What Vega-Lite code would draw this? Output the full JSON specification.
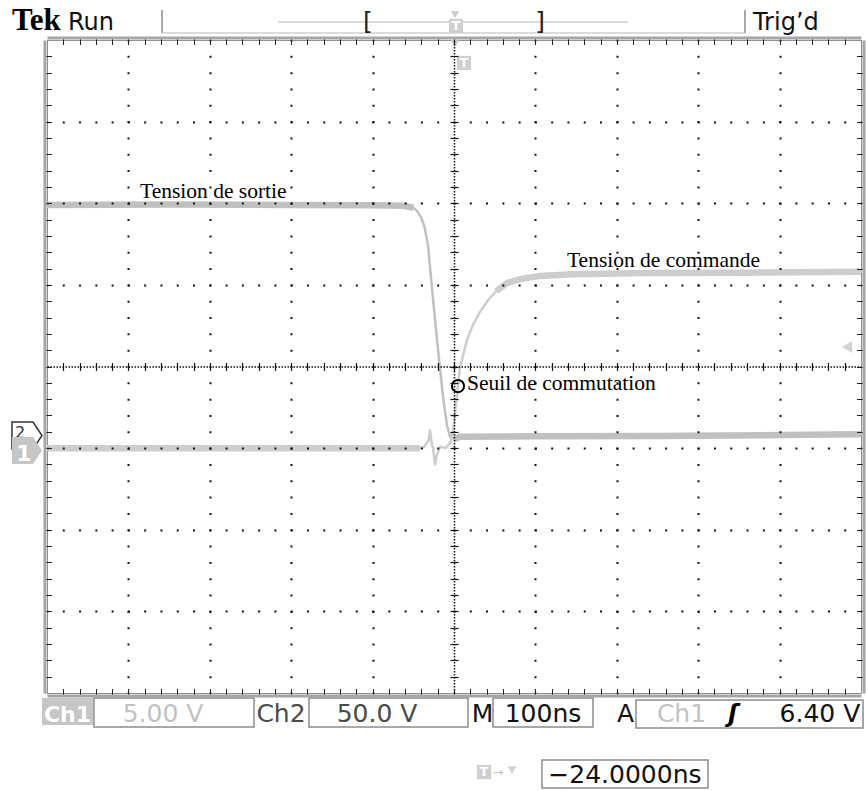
{
  "$schema": "https://vega.github.io/schema/vega-lite/v6.json",
  "width": 814,
  "height": 653,
  "autosize": {"type": "none"},
  "padding": {"left": 47, "top": 40, "right": 5, "bottom": 98},
  "background": "#ffffff",
  "config": {"view": {"stroke": "#222222", "strokeWidth": 1, "strokeDash": [1, 1]}},
  "resolve": {"axis": {"x": "independent", "y": "independent"}},
  "datasets": {
    "traces": [
      {"trace": "Sortie", "phase": "avant", "t": -5, "v": 1.98},
      {"trace": "Sortie", "phase": "avant", "t": -3.5, "v": 1.985},
      {"trace": "Sortie", "phase": "avant", "t": -2, "v": 1.98},
      {"trace": "Sortie", "phase": "avant", "t": -1, "v": 1.975},
      {"trace": "Sortie", "phase": "avant", "t": -0.62, "v": 1.97},
      {"trace": "Sortie", "phase": "avant", "t": -0.5, "v": 1.945},
      {"trace": "Sortie", "phase": "commutation", "t": -0.5, "v": 1.945},
      {"trace": "Sortie", "phase": "commutation", "t": -0.45, "v": 1.9},
      {"trace": "Sortie", "phase": "commutation", "t": -0.4, "v": 1.82},
      {"trace": "Sortie", "phase": "commutation", "t": -0.36, "v": 1.7},
      {"trace": "Sortie", "phase": "commutation", "t": -0.32, "v": 1.49},
      {"trace": "Sortie", "phase": "commutation", "t": -0.26, "v": 0.85},
      {"trace": "Sortie", "phase": "commutation", "t": -0.2, "v": 0.24},
      {"trace": "Sortie", "phase": "commutation", "t": -0.135, "v": -0.37},
      {"trace": "Sortie", "phase": "commutation", "t": -0.086, "v": -0.72},
      {"trace": "Sortie", "phase": "commutation", "t": -0.049, "v": -0.86},
      {"trace": "Sortie", "phase": "commutation", "t": 0, "v": -0.89},
      {"trace": "Sortie", "phase": "apres", "t": 0, "v": -0.89},
      {"trace": "Sortie", "phase": "apres", "t": 0.08, "v": -0.86},
      {"trace": "Sortie", "phase": "apres", "t": 1, "v": -0.855},
      {"trace": "Sortie", "phase": "apres", "t": 2.5, "v": -0.85},
      {"trace": "Sortie", "phase": "apres", "t": 4, "v": -0.84},
      {"trace": "Sortie", "phase": "apres", "t": 5, "v": -0.83},
      {"trace": "Commande", "phase": "avant", "t": -5, "v": -1.0},
      {"trace": "Commande", "phase": "avant", "t": -3, "v": -1.0},
      {"trace": "Commande", "phase": "avant", "t": -1, "v": -1.0},
      {"trace": "Commande", "phase": "avant", "t": -0.42, "v": -1.0},
      {"trace": "Commande", "phase": "commutation", "t": -0.42, "v": -1.0},
      {"trace": "Commande", "phase": "commutation", "t": -0.36, "v": -0.98},
      {"trace": "Commande", "phase": "commutation", "t": -0.31, "v": -0.9},
      {"trace": "Commande", "phase": "commutation", "t": -0.295, "v": -0.78},
      {"trace": "Commande", "phase": "commutation", "t": -0.275, "v": -0.93},
      {"trace": "Commande", "phase": "commutation", "t": -0.258, "v": -1.0},
      {"trace": "Commande", "phase": "commutation", "t": -0.233, "v": -1.2},
      {"trace": "Commande", "phase": "commutation", "t": -0.21, "v": -1.08},
      {"trace": "Commande", "phase": "commutation", "t": -0.17, "v": -0.98},
      {"trace": "Commande", "phase": "commutation", "t": -0.1, "v": -1.0},
      {"trace": "Commande", "phase": "commutation", "t": -0.04, "v": -0.92},
      {"trace": "Commande", "phase": "commutation", "t": 0, "v": -0.72},
      {"trace": "Commande", "phase": "commutation", "t": 0.037, "v": -0.33},
      {"trace": "Commande", "phase": "commutation", "t": 0.074, "v": -0.01},
      {"trace": "Commande", "phase": "commutation", "t": 0.16, "v": 0.325},
      {"trace": "Commande", "phase": "commutation", "t": 0.233, "v": 0.51},
      {"trace": "Commande", "phase": "commutation", "t": 0.32, "v": 0.67},
      {"trace": "Commande", "phase": "commutation", "t": 0.42, "v": 0.815},
      {"trace": "Commande", "phase": "commutation", "t": 0.52, "v": 0.925},
      {"trace": "Commande", "phase": "apres", "t": 0.52, "v": 0.925},
      {"trace": "Commande", "phase": "apres", "t": 0.65, "v": 1.02},
      {"trace": "Commande", "phase": "apres", "t": 0.81, "v": 1.07},
      {"trace": "Commande", "phase": "apres", "t": 1.06, "v": 1.11},
      {"trace": "Commande", "phase": "apres", "t": 1.46, "v": 1.13},
      {"trace": "Commande", "phase": "apres", "t": 2.4, "v": 1.145},
      {"trace": "Commande", "phase": "apres", "t": 3.6, "v": 1.15},
      {"trace": "Commande", "phase": "apres", "t": 5, "v": 1.16}
    ],
    "notes": [
      {"t": -3.857, "v": 2.065, "label": "Tension de sortie"},
      {"t": 1.388, "v": 1.219, "label": "Tension de commande"},
      {"t": 0.16, "v": -0.288, "label": "Seuil de commutation"}
    ],
    "seuil": [{"t": 0.049, "v": -0.239}],
    "header": [
      {"t": -4.742, "v": 4.124, "label": "Run"},
      {"t": 3.673, "v": 4.124, "label": "Trig’d"}
    ],
    "tek": [{"t": -5.43, "v": 4.124, "label": "Tek"}],
    "brackets": [
      {"t": -1.057, "v": 4.222, "label": "["},
      {"t": 1.057, "v": 4.222, "label": "]"}
    ],
    "vrules": [
      {"t": -3.587, "v": 4.369, "v2": 4.087},
      {"t": 3.575, "v": 4.369, "v2": 4.087}
    ],
    "hrules": [
      {"t": -3.587, "t2": 3.575, "v": 4.087},
      {"t": -2.162, "t2": 2.138, "v": 4.222}
    ],
    "boxes": [
      {"t": -4.423, "t2": -2.457, "v": -4.062, "v2": -4.418},
      {"t": -1.781, "t2": 0.172, "v": -4.062, "v2": -4.418},
      {"t": 0.479, "t2": 1.708, "v": -4.062, "v2": -4.418},
      {"t": 2.236, "t2": 5.025, "v": -4.087, "v2": -4.43},
      {"t": 1.081, "t2": 3.12, "v": -4.82, "v2": -5.165}
    ],
    "chbox": [{"t": -5.061, "t2": -4.435, "v": -4.062, "v2": -4.393}],
    "footBlack": [
      {"t": 0.35, "v": -4.357, "label": "M"},
      {"t": 1.093, "v": -4.357, "label": "100ns"},
      {"t": 2.107, "v": -4.357, "label": "A"},
      {"t": 4.496, "v": -4.357, "label": "6.40 V"},
      {"t": 2.1, "v": -5.104, "label": "−24.0000ns"}
    ],
    "slope": [{"t": 3.428, "v": -4.357, "label": "ʃ"}],
    "footDark": [
      {"t": -2.125, "v": -4.357, "label": "Ch2"},
      {"t": -0.946, "v": -4.357, "label": "50.0 V"}
    ],
    "footLight": [
      {"t": -3.575, "v": -4.357, "label": "5.00 V"},
      {"t": 2.795, "v": -4.357, "label": "Ch1"}
    ],
    "iconSquares": [
      {"t": 0.025, "v": 4.173, "label": "T"},
      {"t": 0.123, "v": 3.719, "label": "T"},
      {"t": 0.369, "v": -4.969, "label": "T"}
    ],
    "iconTriangles": [
      {"t": 0.012, "v": 4.311},
      {"t": 0.012, "v": 3.952},
      {"t": 0.713, "v": -4.945}
    ],
    "arrow": [{"t": 0.541, "v": -4.969, "label": "→"}],
    "marker2": [{"t": -5.246, "v": -0.864}],
    "marker2text": [{"t": -5.332, "v": -0.815, "label": "2"}],
    "marker1": [{"t": -5.246, "v": -1.048}],
    "whiteText": [
      {"t": -4.748, "v": -4.357, "label": "Ch1"},
      {"t": -5.283, "v": -1.158, "label": "1"}
    ],
    "trigger": [{"t": 4.828, "v": 0.239}]
  },
  "layer": [
    {
      "data": {"name": "boxes"},
      "mark": {"type": "rect", "fill": "#ffffff", "stroke": "#8c8c8c", "strokeWidth": 1.5},
      "encoding": {
        "x": {"field": "t", "type": "quantitative", "scale": {"domain": [-5, 5], "nice": false, "zero": false}, "axis": null},
        "x2": {"field": "t2"},
        "y": {"field": "v", "type": "quantitative", "scale": {"domain": [-4, 4], "nice": false, "zero": false}, "axis": null},
        "y2": {"field": "v2"}
      }
    },
    {
      "data": {"name": "chbox"},
      "mark": {"type": "rect", "fill": "#c6c6c6"},
      "encoding": {
        "x": {"field": "t", "type": "quantitative", "scale": {"domain": [-5, 5], "nice": false, "zero": false}, "axis": null},
        "x2": {"field": "t2"},
        "y": {"field": "v", "type": "quantitative", "scale": {"domain": [-4, 4], "nice": false, "zero": false}, "axis": null},
        "y2": {"field": "v2"}
      }
    },
    {
      "data": {"name": "vrules"},
      "mark": {"type": "rule", "stroke": "#8c8c8c", "strokeWidth": 1.5},
      "encoding": {
        "x": {"field": "t", "type": "quantitative", "scale": {"domain": [-5, 5], "nice": false, "zero": false}, "axis": null},
        "y": {"field": "v", "type": "quantitative", "scale": {"domain": [-4, 4], "nice": false, "zero": false}, "axis": null},
        "y2": {"field": "v2"}
      }
    },
    {
      "data": {"name": "hrules"},
      "mark": {"type": "rule", "stroke": "#cfcfcf", "strokeWidth": 1.5},
      "encoding": {
        "x": {"field": "t", "type": "quantitative", "scale": {"domain": [-5, 5], "nice": false, "zero": false}, "axis": null},
        "x2": {"field": "t2"},
        "y": {"field": "v", "type": "quantitative", "scale": {"domain": [-4, 4], "nice": false, "zero": false}, "axis": null}
      }
    },
    {
      "data": {"name": "traces"},
      "mark": {"type": "line", "strokeWidth": 2.5, "strokeCap": "round", "strokeJoin": "round"},
      "encoding": {
        "x": {"field": "t", "type": "quantitative", "scale": {"domain": [-5, 5], "nice": false, "zero": false},
          "axis": {"orient": "bottom", "grid": true, "domain": false, "ticks": false, "labels": false, "title": null,
            "values": [-4, -3, -2, -1, 1, 2, 3, 4], "gridColor": "#111111", "gridWidth": 2, "gridDash": [2, 14.325], "gridDashOffset": 1, "gridOpacity": 1, "zindex": 1}},
        "y": {"field": "v", "type": "quantitative", "scale": {"domain": [-4, 4], "nice": false, "zero": false},
          "axis": {"orient": "left", "grid": true, "domain": false, "ticks": false, "labels": false, "title": null,
            "values": [-3, -2, -1, 1, 2, 3], "gridColor": "#111111", "gridWidth": 2, "gridDash": [2, 14.28], "gridDashOffset": 1, "gridOpacity": 1, "zindex": 1}},
        "detail": {"field": "trace", "type": "nominal"},
        "color": {"field": "trace", "type": "nominal", "scale": {"domain": ["Commande", "Sortie"], "range": ["#cdcdcd", "#c0c0c0"]}, "legend": null}
      }
    },
    {
      "data": {"name": "traces"},
      "transform": [{"filter": "datum.phase != 'commutation'"}],
      "mark": {"type": "line", "strokeWidth": 6.5, "strokeCap": "butt"},
      "encoding": {
        "x": {"field": "t", "type": "quantitative", "scale": {"domain": [-5, 5], "nice": false, "zero": false},
          "axis": {"orient": "bottom", "offset": 2.5, "grid": false, "labels": false, "title": null, "domain": true, "domainColor": "#a6a6a6", "domainWidth": 3,
            "ticks": true, "tickColor": "#222222", "tickSize": -7, "tickWidth": 1,
            "values": [-4.8,-4.6,-4.4,-4.2,-4,-3.8,-3.6,-3.4,-3.2,-3,-2.8,-2.6,-2.4,-2.2,-2,-1.8,-1.6,-1.4,-1.2,-1,-0.8,-0.6,-0.4,-0.2,0,0.2,0.4,0.6,0.8,1,1.2,1.4,1.6,1.8,2,2.2,2.4,2.6,2.8,3,3.2,3.4,3.6,3.8,4,4.2,4.4,4.6,4.8], "zindex": 1}},
        "y": {"field": "v", "type": "quantitative", "scale": {"domain": [-4, 4], "nice": false, "zero": false},
          "axis": {"orient": "left", "offset": 2.5, "grid": false, "labels": false, "title": null, "domain": true, "domainColor": "#a6a6a6", "domainWidth": 3,
            "ticks": true, "tickColor": "#222222", "tickSize": -7, "tickWidth": 1,
            "values": [-3.8,-3.6,-3.4,-3.2,-3,-2.8,-2.6,-2.4,-2.2,-2,-1.8,-1.6,-1.4,-1.2,-1,-0.8,-0.6,-0.4,-0.2,0,0.2,0.4,0.6,0.8,1,1.2,1.4,1.6,1.8,2,2.2,2.4,2.6,2.8,3,3.2,3.4,3.6,3.8], "zindex": 1}},
        "detail": [{"field": "trace", "type": "nominal"}, {"field": "phase", "type": "nominal"}],
        "color": {"field": "trace", "type": "nominal", "scale": {"domain": ["Commande", "Sortie"], "range": ["#cdcdcd", "#c0c0c0"]}, "legend": null}
      }
    },
    {
      "data": {"name": "notes"},
      "mark": {"type": "text", "font": "Liberation Serif", "fontSize": 21.5, "color": "#000000", "align": "left", "baseline": "alphabetic"},
      "encoding": {
        "x": {"field": "t", "type": "quantitative", "scale": {"domain": [-5, 5], "nice": false, "zero": false},
          "axis": {"orient": "top", "offset": 2.5, "grid": false, "labels": false, "title": null, "domain": true, "domainColor": "#a6a6a6", "domainWidth": 3,
            "ticks": true, "tickColor": "#222222", "tickSize": -7, "tickWidth": 1,
            "values": [-4.8,-4.6,-4.4,-4.2,-4,-3.8,-3.6,-3.4,-3.2,-3,-2.8,-2.6,-2.4,-2.2,-2,-1.8,-1.6,-1.4,-1.2,-1,-0.8,-0.6,-0.4,-0.2,0,0.2,0.4,0.6,0.8,1,1.2,1.4,1.6,1.8,2,2.2,2.4,2.6,2.8,3,3.2,3.4,3.6,3.8,4,4.2,4.4,4.6,4.8], "zindex": 1}},
        "y": {"field": "v", "type": "quantitative", "scale": {"domain": [-4, 4], "nice": false, "zero": false},
          "axis": {"orient": "right", "offset": 2.5, "grid": false, "labels": false, "title": null, "domain": true, "domainColor": "#a6a6a6", "domainWidth": 3,
            "ticks": true, "tickColor": "#222222", "tickSize": -7, "tickWidth": 1,
            "values": [-3.8,-3.6,-3.4,-3.2,-3,-2.8,-2.6,-2.4,-2.2,-2,-1.8,-1.6,-1.4,-1.2,-1,-0.8,-0.6,-0.4,-0.2,0,0.2,0.4,0.6,0.8,1,1.2,1.4,1.6,1.8,2,2.2,2.4,2.6,2.8,3,3.2,3.4,3.6,3.8], "zindex": 1}},
        "text": {"field": "label"}
      }
    },
    {
      "data": {"name": "seuil"},
      "mark": {"type": "point", "shape": "circle", "filled": false, "stroke": "#000000", "strokeWidth": 2, "size": 150, "opacity": 1},
      "encoding": {
        "x": {"field": "t", "type": "quantitative", "scale": {"domain": [-5, 5], "nice": false, "zero": false},
          "axis": {"orient": "bottom", "offset": -326.5, "grid": false, "labels": false, "title": null, "domain": true, "domainColor": "#111111", "domainWidth": 1.5, "domainDash": [1.5, 1.5],
            "ticks": true, "tickColor": "#111111", "tickSize": 4, "tickWidth": 1.2,
            "values": [-4.8,-4.6,-4.4,-4.2,-4,-3.8,-3.6,-3.4,-3.2,-3,-2.8,-2.6,-2.4,-2.2,-2,-1.8,-1.6,-1.4,-1.2,-1,-0.8,-0.6,-0.4,-0.2,0,0.2,0.4,0.6,0.8,1,1.2,1.4,1.6,1.8,2,2.2,2.4,2.6,2.8,3,3.2,3.4,3.6,3.8,4,4.2,4.4,4.6,4.8], "zindex": 1}},
        "y": {"field": "v", "type": "quantitative", "scale": {"domain": [-4, 4], "nice": false, "zero": false},
          "axis": {"orient": "left", "offset": -407, "grid": false, "labels": false, "title": null, "domain": true, "domainColor": "#111111", "domainWidth": 1.5, "domainDash": [1.5, 1.5],
            "ticks": true, "tickColor": "#111111", "tickSize": 4, "tickWidth": 1.2,
            "values": [-3.8,-3.6,-3.4,-3.2,-3,-2.8,-2.6,-2.4,-2.2,-2,-1.8,-1.6,-1.4,-1.2,-1,-0.8,-0.6,-0.4,-0.2,0,0.2,0.4,0.6,0.8,1,1.2,1.4,1.6,1.8,2,2.2,2.4,2.6,2.8,3,3.2,3.4,3.6,3.8], "zindex": 1}}
      }
    },
    {
      "data": {"name": "header"},
      "mark": {"type": "text", "font": "DejaVu Sans", "fontSize": 24, "color": "#111111", "align": "left", "baseline": "alphabetic"},
      "encoding": {
        "x": {"field": "t", "type": "quantitative", "scale": {"domain": [-5, 5], "nice": false, "zero": false},
          "axis": {"orient": "top", "offset": -326.5, "grid": false, "labels": false, "title": null, "domain": false,
            "ticks": true, "tickColor": "#111111", "tickSize": 4, "tickWidth": 1.2,
            "values": [-4.8,-4.6,-4.4,-4.2,-4,-3.8,-3.6,-3.4,-3.2,-3,-2.8,-2.6,-2.4,-2.2,-2,-1.8,-1.6,-1.4,-1.2,-1,-0.8,-0.6,-0.4,-0.2,0,0.2,0.4,0.6,0.8,1,1.2,1.4,1.6,1.8,2,2.2,2.4,2.6,2.8,3,3.2,3.4,3.6,3.8,4,4.2,4.4,4.6,4.8], "zindex": 1}},
        "y": {"field": "v", "type": "quantitative", "scale": {"domain": [-4, 4], "nice": false, "zero": false},
          "axis": {"orient": "right", "offset": -407, "grid": false, "labels": false, "title": null, "domain": false,
            "ticks": true, "tickColor": "#111111", "tickSize": 4, "tickWidth": 1.2,
            "values": [-3.8,-3.6,-3.4,-3.2,-3,-2.8,-2.6,-2.4,-2.2,-2,-1.8,-1.6,-1.4,-1.2,-1,-0.8,-0.6,-0.4,-0.2,0,0.2,0.4,0.6,0.8,1,1.2,1.4,1.6,1.8,2,2.2,2.4,2.6,2.8,3,3.2,3.4,3.6,3.8], "zindex": 1}},
        "text": {"field": "label"}
      }
    },
    {
      "data": {"name": "tek"},
      "mark": {"type": "text", "font": "Liberation Serif", "fontSize": 31, "fontWeight": "bold", "color": "#000000", "align": "left", "baseline": "alphabetic"},
      "encoding": {
        "x": {"field": "t", "type": "quantitative", "scale": {"domain": [-5, 5], "nice": false, "zero": false}, "axis": null},
        "y": {"field": "v", "type": "quantitative", "scale": {"domain": [-4, 4], "nice": false, "zero": false}, "axis": null},
        "text": {"field": "label"}
      }
    },
    {
      "data": {"name": "brackets"},
      "mark": {"type": "text", "font": "DejaVu Sans", "fontSize": 25, "color": "#222222", "align": "center", "baseline": "middle"},
      "encoding": {
        "x": {"field": "t", "type": "quantitative", "scale": {"domain": [-5, 5], "nice": false, "zero": false}, "axis": null},
        "y": {"field": "v", "type": "quantitative", "scale": {"domain": [-4, 4], "nice": false, "zero": false}, "axis": null},
        "text": {"field": "label"}
      }
    },
    {
      "data": {"name": "footBlack"},
      "mark": {"type": "text", "font": "DejaVu Sans", "fontSize": 25, "color": "#111111", "align": "center", "baseline": "alphabetic"},
      "encoding": {
        "x": {"field": "t", "type": "quantitative", "scale": {"domain": [-5, 5], "nice": false, "zero": false}, "axis": null},
        "y": {"field": "v", "type": "quantitative", "scale": {"domain": [-4, 4], "nice": false, "zero": false}, "axis": null},
        "text": {"field": "label"}
      }
    },
    {
      "data": {"name": "slope"},
      "mark": {"type": "text", "font": "DejaVu Sans", "fontSize": 24, "fontWeight": "bold", "fontStyle": "italic", "color": "#000000", "align": "center", "baseline": "alphabetic"},
      "encoding": {
        "x": {"field": "t", "type": "quantitative", "scale": {"domain": [-5, 5], "nice": false, "zero": false}, "axis": null},
        "y": {"field": "v", "type": "quantitative", "scale": {"domain": [-4, 4], "nice": false, "zero": false}, "axis": null},
        "text": {"field": "label"}
      }
    },
    {
      "data": {"name": "footDark"},
      "mark": {"type": "text", "font": "DejaVu Sans", "fontSize": 25, "color": "#4a4a4a", "align": "center", "baseline": "alphabetic"},
      "encoding": {
        "x": {"field": "t", "type": "quantitative", "scale": {"domain": [-5, 5], "nice": false, "zero": false}, "axis": null},
        "y": {"field": "v", "type": "quantitative", "scale": {"domain": [-4, 4], "nice": false, "zero": false}, "axis": null},
        "text": {"field": "label"}
      }
    },
    {
      "data": {"name": "footLight"},
      "mark": {"type": "text", "font": "DejaVu Sans", "fontSize": 25, "color": "#c2c2c2", "align": "center", "baseline": "alphabetic"},
      "encoding": {
        "x": {"field": "t", "type": "quantitative", "scale": {"domain": [-5, 5], "nice": false, "zero": false}, "axis": null},
        "y": {"field": "v", "type": "quantitative", "scale": {"domain": [-4, 4], "nice": false, "zero": false}, "axis": null},
        "text": {"field": "label"}
      }
    },
    {
      "data": {"name": "iconSquares"},
      "mark": {"type": "point", "shape": "square", "filled": true, "color": "#cfcfcf", "size": 200, "opacity": 1},
      "encoding": {
        "x": {"field": "t", "type": "quantitative", "scale": {"domain": [-5, 5], "nice": false, "zero": false}, "axis": null},
        "y": {"field": "v", "type": "quantitative", "scale": {"domain": [-4, 4], "nice": false, "zero": false}, "axis": null}
      }
    },
    {
      "data": {"name": "iconSquares"},
      "mark": {"type": "text", "font": "DejaVu Sans", "fontSize": 13, "fontWeight": "bold", "color": "#ffffff", "align": "center", "baseline": "middle"},
      "encoding": {
        "x": {"field": "t", "type": "quantitative", "scale": {"domain": [-5, 5], "nice": false, "zero": false}, "axis": null},
        "y": {"field": "v", "type": "quantitative", "scale": {"domain": [-4, 4], "nice": false, "zero": false}, "axis": null},
        "text": {"field": "label"}
      }
    },
    {
      "data": {"name": "iconTriangles"},
      "mark": {"type": "point", "shape": "triangle-down", "filled": true, "color": "#cfcfcf", "size": 70, "opacity": 1},
      "encoding": {
        "x": {"field": "t", "type": "quantitative", "scale": {"domain": [-5, 5], "nice": false, "zero": false}, "axis": null},
        "y": {"field": "v", "type": "quantitative", "scale": {"domain": [-4, 4], "nice": false, "zero": false}, "axis": null}
      }
    },
    {
      "data": {"name": "arrow"},
      "mark": {"type": "text", "font": "DejaVu Sans", "fontSize": 12, "color": "#c4c4c4", "align": "center", "baseline": "middle"},
      "encoding": {
        "x": {"field": "t", "type": "quantitative", "scale": {"domain": [-5, 5], "nice": false, "zero": false}, "axis": null},
        "y": {"field": "v", "type": "quantitative", "scale": {"domain": [-4, 4], "nice": false, "zero": false}, "axis": null},
        "text": {"field": "label"}
      }
    },
    {
      "data": {"name": "marker2"},
      "mark": {"type": "point", "shape": "M-1,-1L0.4,-1L1,-0.1L0.4,0.8L-1,0.8Z", "filled": true, "fill": "#ffffff", "stroke": "#333333", "strokeWidth": 1.5, "size": 900, "opacity": 1},
      "encoding": {
        "x": {"field": "t", "type": "quantitative", "scale": {"domain": [-5, 5], "nice": false, "zero": false}, "axis": null},
        "y": {"field": "v", "type": "quantitative", "scale": {"domain": [-4, 4], "nice": false, "zero": false}, "axis": null}
      }
    },
    {
      "data": {"name": "marker2text"},
      "mark": {"type": "text", "font": "DejaVu Sans", "fontSize": 16, "color": "#333333", "align": "center", "baseline": "middle"},
      "encoding": {
        "x": {"field": "t", "type": "quantitative", "scale": {"domain": [-5, 5], "nice": false, "zero": false}, "axis": null},
        "y": {"field": "v", "type": "quantitative", "scale": {"domain": [-4, 4], "nice": false, "zero": false}, "axis": null},
        "text": {"field": "label"}
      }
    },
    {
      "data": {"name": "marker1"},
      "mark": {"type": "point", "shape": "M-1,-1L0.4,-1L1,-0.1L0.4,0.8L-1,0.8Z", "filled": true, "fill": "#c6c6c6", "strokeWidth": 0, "size": 900, "opacity": 1},
      "encoding": {
        "x": {"field": "t", "type": "quantitative", "scale": {"domain": [-5, 5], "nice": false, "zero": false}, "axis": null},
        "y": {"field": "v", "type": "quantitative", "scale": {"domain": [-4, 4], "nice": false, "zero": false}, "axis": null}
      }
    },
    {
      "data": {"name": "whiteText"},
      "mark": {"type": "text", "font": "DejaVu Sans", "fontSize": 22, "fontWeight": "bold", "color": "#ffffff", "align": "center", "baseline": "alphabetic"},
      "encoding": {
        "x": {"field": "t", "type": "quantitative", "scale": {"domain": [-5, 5], "nice": false, "zero": false}, "axis": null},
        "y": {"field": "v", "type": "quantitative", "scale": {"domain": [-4, 4], "nice": false, "zero": false}, "axis": null},
        "text": {"field": "label"}
      }
    },
    {
      "data": {"name": "trigger"},
      "mark": {"type": "point", "shape": "triangle-left", "filled": true, "color": "#d4d4d4", "size": 140, "opacity": 1},
      "encoding": {
        "x": {"field": "t", "type": "quantitative", "scale": {"domain": [-5, 5], "nice": false, "zero": false}, "axis": null},
        "y": {"field": "v", "type": "quantitative", "scale": {"domain": [-4, 4], "nice": false, "zero": false}, "axis": null}
      }
    }
  ]
}
